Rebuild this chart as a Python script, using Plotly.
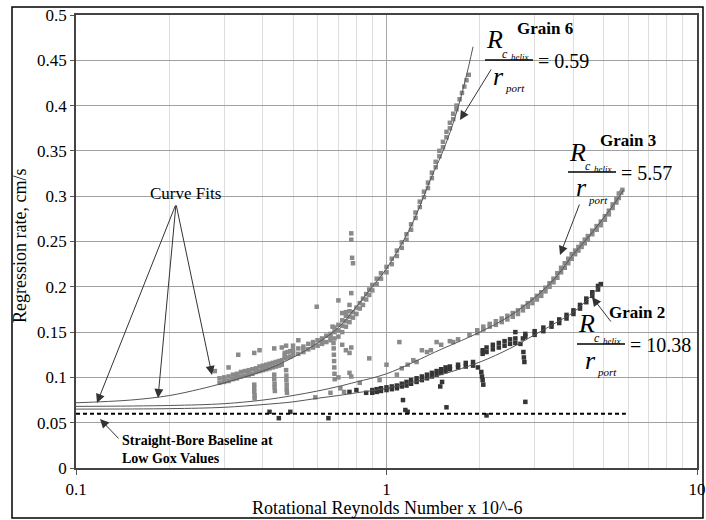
import plotly.graph_objects as go

FONT = "Liberation Serif"

# ---- data (x = rotational Re x 1e-6, y = regression rate cm/s) ----
grain6_pts = [
    (0.290, 0.094), (0.290, 0.099), (0.300, 0.095), (0.300, 0.100), (0.300, 0.097),
    (0.310, 0.096), (0.310, 0.101), (0.320, 0.098), (0.320, 0.103), (0.330, 0.099),
    (0.330, 0.104), (0.330, 0.101), (0.340, 0.101), (0.340, 0.106), (0.350, 0.102),
    (0.350, 0.107), (0.360, 0.103), (0.360, 0.108), (0.360, 0.105), (0.370, 0.104),
    (0.370, 0.109), (0.380, 0.106), (0.380, 0.110), (0.390, 0.107), (0.390, 0.112),
    (0.400, 0.108), (0.400, 0.113), (0.400, 0.110), (0.410, 0.109), (0.410, 0.114),
    (0.420, 0.110), (0.420, 0.115), (0.430, 0.111), (0.430, 0.116), (0.440, 0.112),
    (0.440, 0.117), (0.450, 0.113), (0.450, 0.118), (0.460, 0.114), (0.460, 0.119),
    (0.470, 0.121), (0.470, 0.127), (0.470, 0.124), (0.480, 0.122), (0.480, 0.128),
    (0.490, 0.123), (0.490, 0.129), (0.500, 0.125), (0.500, 0.130), (0.500, 0.127),
    (0.520, 0.126), (0.520, 0.132), (0.540, 0.128), (0.540, 0.134), (0.540, 0.131),
    (0.560, 0.131), (0.560, 0.137), (0.580, 0.133), (0.580, 0.139), (0.580, 0.136),
    (0.600, 0.135), (0.600, 0.141), (0.620, 0.137), (0.620, 0.143), (0.620, 0.140),
    (0.640, 0.139), (0.640, 0.146), (0.660, 0.141), (0.660, 0.148), (0.660, 0.144),
    (0.680, 0.143), (0.680, 0.150), (0.680, 0.155), (0.700, 0.145), (0.700, 0.152),
    (0.700, 0.158), (0.720, 0.150), (0.720, 0.157), (0.720, 0.163), (0.740, 0.156),
    (0.740, 0.162), (0.740, 0.168), (0.760, 0.161), (0.760, 0.167), (0.760, 0.173),
    (0.780, 0.166), (0.780, 0.172), (0.800, 0.170), (0.800, 0.177), (0.820, 0.176),
    (0.820, 0.182), (0.840, 0.180), (0.840, 0.187), (0.860, 0.186), (0.860, 0.192),
    (0.880, 0.191), (0.880, 0.197), (0.900, 0.196), (0.900, 0.202), (0.930, 0.203),
    (0.930, 0.209), (0.960, 0.209), (0.960, 0.215), (1.000, 0.216), (1.000, 0.222),
    (1.040, 0.225), (1.040, 0.231), (1.080, 0.234), (1.080, 0.240), (1.120, 0.243),
    (1.120, 0.249), (1.160, 0.252), (1.160, 0.258), (1.200, 0.263), (1.200, 0.269),
    (1.240, 0.276), (1.240, 0.282), (1.280, 0.288), (1.280, 0.294), (1.320, 0.299),
    (1.320, 0.305), (1.360, 0.309), (1.360, 0.315), (1.400, 0.320), (1.400, 0.326),
    (1.440, 0.332), (1.440, 0.338), (1.480, 0.344), (1.480, 0.350), (1.520, 0.354),
    (1.520, 0.360), (1.560, 0.365), (1.560, 0.371), (1.600, 0.375), (1.600, 0.381),
    (1.640, 0.385), (1.640, 0.391), (1.680, 0.396), (1.680, 0.400), (1.720, 0.407),
    (1.750, 0.414), (1.780, 0.421), (1.810, 0.428), (1.840, 0.434),
    # transients
    (0.375, 0.092), (0.375, 0.088), (0.375, 0.084), (0.376, 0.080), (0.376, 0.077),
    (0.435, 0.103), (0.435, 0.098), (0.436, 0.093), (0.436, 0.089), (0.437, 0.085),
    (0.475, 0.108), (0.476, 0.102), (0.476, 0.097), (0.477, 0.092), (0.477, 0.087),
    (0.478, 0.083), (0.675, 0.138), (0.676, 0.132), (0.677, 0.125), (0.678, 0.118),
    (0.679, 0.111), (0.680, 0.104), (0.681, 0.098),
    # scattered
    (0.280, 0.107), (0.310, 0.111), (0.333, 0.125), (0.375, 0.127), (0.390, 0.130),
    (0.435, 0.132), (0.460, 0.133), (0.475, 0.135), (0.500, 0.135), (0.520, 0.141),
    (0.596, 0.178), (0.670, 0.156), (0.700, 0.185), (0.720, 0.171), (0.740, 0.172),
    (0.760, 0.180), (0.770, 0.193), (0.720, 0.136), (0.740, 0.130), (0.760, 0.127),
    (0.770, 0.133), (0.770, 0.259), (0.770, 0.252), (0.775, 0.232), (0.780, 0.226),
]

grain3_pts = [
    (0.59, 0.078), (0.66, 0.083), (0.70, 0.100), (0.71, 0.088), (0.73, 0.084),
    (0.76, 0.105), (0.77, 0.101), (0.82, 0.094), (0.88, 0.121), (0.95, 0.097),
    (1.00, 0.114), (1.08, 0.103), (1.12, 0.110), (1.17, 0.114), (1.22, 0.119),
    (1.10, 0.139), (1.25, 0.117), (1.30, 0.130), (1.35, 0.128), (1.39, 0.130),
    (1.45, 0.139), (1.50, 0.136), (1.60, 0.140), (1.64, 0.139), (1.70, 0.142),
    (1.85, 0.147),
    (1.96, 0.149), (1.96, 0.152), (2.05, 0.153), (2.05, 0.156), (2.15, 0.156),
    (2.15, 0.159), (2.25, 0.158), (2.25, 0.162), (2.35, 0.161), (2.35, 0.165),
    (2.45, 0.164), (2.45, 0.168), (2.55, 0.167), (2.55, 0.171), (2.65, 0.170),
    (2.65, 0.174), (2.75, 0.174), (2.75, 0.178), (2.85, 0.178), (2.85, 0.182),
    (2.95, 0.182), (2.95, 0.186), (3.05, 0.186), (3.05, 0.190), (3.15, 0.190),
    (3.15, 0.194), (3.25, 0.195), (3.25, 0.199), (3.35, 0.200), (3.35, 0.204),
    (3.45, 0.205), (3.45, 0.209), (3.55, 0.210), (3.55, 0.215), (3.65, 0.216),
    (3.65, 0.221), (3.75, 0.221), (3.75, 0.226), (3.85, 0.226), (3.85, 0.231),
    (3.95, 0.231), (3.95, 0.236), (4.05, 0.236), (4.05, 0.240), (4.15, 0.240),
    (4.15, 0.244), (4.25, 0.244), (4.25, 0.248), (4.35, 0.248), (4.35, 0.252),
    (4.45, 0.252), (4.45, 0.256), (4.60, 0.258), (4.60, 0.262), (4.75, 0.263),
    (4.75, 0.267), (4.90, 0.268), (4.90, 0.272), (5.05, 0.274), (5.05, 0.278),
    (5.20, 0.280), (5.20, 0.284), (5.35, 0.287), (5.35, 0.291), (5.50, 0.293),
    (5.50, 0.297), (5.60, 0.298), (5.60, 0.303), (5.70, 0.304), (5.75, 0.307),
]

grain2_pts = [
    (0.86, 0.083), (0.90, 0.083), (0.90, 0.086), (0.93, 0.084), (0.93, 0.087),
    (0.96, 0.085), (0.96, 0.088), (1.00, 0.086), (1.00, 0.089), (1.04, 0.087),
    (1.04, 0.090), (1.08, 0.088), (1.08, 0.091), (1.12, 0.090), (1.12, 0.093),
    (1.16, 0.091), (1.16, 0.095), (1.20, 0.093), (1.20, 0.097), (1.25, 0.095),
    (1.25, 0.099), (1.30, 0.097), (1.30, 0.101), (1.35, 0.099), (1.35, 0.103),
    (1.40, 0.101), (1.40, 0.105), (1.45, 0.103), (1.45, 0.107), (1.50, 0.105),
    (1.50, 0.109), (1.55, 0.107), (1.55, 0.111), (1.60, 0.109), (1.60, 0.112),
    (1.70, 0.111), (1.70, 0.114), (1.80, 0.112), (1.80, 0.116), (1.90, 0.113),
    (1.90, 0.117), (1.97, 0.111),
    (2.02, 0.106), (2.03, 0.101), (2.04, 0.097), (2.05, 0.092),
    (2.04, 0.126), (2.04, 0.130), (2.10, 0.128), (2.10, 0.133), (2.20, 0.131),
    (2.20, 0.136), (2.30, 0.133), (2.30, 0.138), (2.40, 0.135), (2.40, 0.140),
    (2.50, 0.137), (2.50, 0.142), (2.60, 0.138), (2.60, 0.143), (2.70, 0.137),
    (2.76, 0.128), (2.77, 0.122), (2.78, 0.117), (2.80, 0.073),
    (2.80, 0.145), (2.80, 0.148), (3.00, 0.147), (3.00, 0.151), (3.20, 0.151),
    (3.20, 0.155), (3.40, 0.156), (3.40, 0.160), (3.60, 0.160), (3.60, 0.164),
    (3.80, 0.165), (3.80, 0.169), (4.00, 0.170), (4.00, 0.174), (4.20, 0.176),
    (4.20, 0.180), (4.40, 0.183), (4.40, 0.187), (4.60, 0.190), (4.60, 0.194),
    (4.80, 0.197), (4.80, 0.201), (4.90, 0.203),
    # scattered
    (0.42, 0.062), (0.45, 0.055), (0.49, 0.062), (0.65, 0.055), (0.76, 0.084),
    (0.80, 0.086), (1.13, 0.075), (1.15, 0.064), (1.17, 0.062), (1.49, 0.090),
    (1.51, 0.095), (1.56, 0.067), (2.10, 0.058), (2.60, 0.150), (2.75, 0.143),
]

# curve fits
fit6_x = [0.1, 0.15, 0.2, 0.25, 0.3, 0.4, 0.5, 0.6, 0.7, 0.8, 0.9, 1.0, 1.2, 1.4, 1.5, 1.6, 1.7, 1.8, 1.9]
fit6_y = [0.072, 0.075, 0.080, 0.087, 0.094, 0.107, 0.122, 0.138, 0.155, 0.178, 0.200, 0.220, 0.267, 0.322, 0.345, 0.370, 0.398, 0.430, 0.465]
fit3_x = [0.1, 0.2, 0.3, 0.4, 0.5, 0.6, 0.7, 0.8, 1.0, 1.5, 2.0, 2.5, 3.0, 3.5, 4.0, 4.5, 5.0, 5.5, 5.8]
fit3_y = [0.068, 0.069, 0.071, 0.075, 0.080, 0.085, 0.090, 0.095, 0.104, 0.131, 0.150, 0.168, 0.188, 0.210, 0.236, 0.256, 0.276, 0.295, 0.307]
fit2_x = [0.1, 0.2, 0.3, 0.4, 0.5, 0.6, 0.7, 0.8, 1.0, 1.5, 2.0, 2.5, 3.0, 3.5, 4.0, 4.5, 4.9]
fit2_y = [0.065, 0.0655, 0.067, 0.070, 0.073, 0.077, 0.080, 0.083, 0.088, 0.103, 0.117, 0.132, 0.147, 0.160, 0.172, 0.188, 0.202]

baseline_x = [0.1, 5.9]
baseline_y = [0.06, 0.06]

y_ticks = [0, 0.05, 0.1, 0.15, 0.2, 0.25, 0.3, 0.35, 0.4, 0.45, 0.5]
y_ticktext = ["0", "0.05", "0.1", "0.15", "0.2", "0.25", "0.3", "0.35", "0.4", "0.45", "0.5"]
x_ticks = [0.1, 1, 10]
x_ticktext = ["0.1", "1", "10"]
x_minor = [0.2, 0.3, 0.4, 0.5, 0.6, 0.7, 0.8, 0.9, 2, 3, 4, 5, 6, 7, 8, 9]

W, H = 706, 520
ML, MR, MT, MB = 76, 9, 15, 52
PW, PH = W - ML - MR, H - MT - MB


def pp(px, py):
    # pixel position in the page -> paper coordinates
    return (px - ML) / PW, (H - MB - py) / PH


fig = go.Figure()

for pts, col in [(grain6_pts, "#8a8a8a"), (grain3_pts, "#8a8a8a"), (grain2_pts, "#353535")]:
    fig.add_trace(go.Scatter(x=[p[0] for p in pts], y=[p[1] for p in pts], mode="markers",
                             marker=dict(symbol="square", size=4.5, color=col, line_width=0),
                             showlegend=False, hoverinfo="skip"))

for fx, fy in [(fit6_x, fit6_y), (fit3_x, fit3_y), (fit2_x, fit2_y)]:
    fig.add_trace(go.Scatter(x=fx, y=fy, mode="lines", line=dict(color="#555555", width=1, shape="spline"),
                             showlegend=False, hoverinfo="skip"))

fig.add_trace(go.Scatter(x=baseline_x, y=baseline_y, mode="lines",
                         line=dict(color="black", width=2, dash="4px,3px"), showlegend=False))


def text(t, px, py, size, xanchor="center", angle=0):
    x, y = pp(px, py)
    fig.add_annotation(x=x, y=y, xref="paper", yref="paper", text=t, showarrow=False,
                       xanchor=xanchor, yanchor="middle", align="left", textangle=angle,
                       font=dict(family=FONT, size=size, color="black"))


def arrow(tip, tail, size=1.8, color="#333333"):
    x, y = pp(*tip)
    fig.add_annotation(x=x, y=y, xref="paper", yref="paper", text="", showarrow=True,
                       ax=tail[0] - tip[0], ay=tail[1] - tip[1], arrowhead=2, arrowsize=size,
                       arrowwidth=1, arrowcolor=color, standoff=0)


def patch(x0, y0, x1, y1):
    a, b = pp(x0, y0)
    c, d = pp(x1, y1)
    fig.add_shape(type="rect", xref="paper", yref="paper", x0=a, y0=d, x1=c, y1=b,
                  fillcolor="white", line_width=0, layer="between")


def ratio(px, py, value, grain):
    # R_c_helix / r_port = value, with the grain name above; (px, py) = left end of fraction bar
    text("<b>" + grain + "</b>", px + 60, py - 32, 17)
    text("<i>R</i>", px + 9, py - 20, 26)
    text("<i>c</i>", px + 20, py - 6, 12)
    text("<i>helix</i>", px + 24, py - 3, 9, xanchor="left")
    a, b = pp(px, py)
    c, _ = pp(px + 48, py)
    fig.add_shape(type="line", xref="paper", yref="paper", x0=a, y0=b, x1=c, y1=b,
                  line=dict(color="black", width=1.6))
    text("= " + value, px + 51, py + 1, 20, xanchor="left")
    text("<i>r</i>", px + 13, py + 16, 26)
    text("<i>port</i>", px + 30, py + 28, 11)


patch(484, 17, 598, 95)
patch(552, 128, 684, 205)
patch(576, 300, 692, 375)

ratio(485, 60, "0.59", "Grain 6")
ratio(568, 172, "5.57", "Grain 3")
ratio(577, 344, "10.38", "Grain 2")

arrow((460, 120), (492, 68))
arrow((560, 255), (580, 203))
arrow((592, 297), (612, 323))

text("Curve Fits", 185, 193, 17)
arrow((97, 403), (176, 204))
arrow((158, 398), (176, 204))
arrow((212, 375), (176, 204))

text("<b>Straight-Bore Baseline at<br>Low Gox Values</b>", 120, 449, 14, xanchor="left")
arrow((100, 419), (120, 440))

# axis titles
text("Regression rate, cm/s", 20, 246, 18, angle=-90)
text("Rotational Reynolds Number x 10^-6", 387, 508, 18)

# outer frame
fa, fb = pp(12, 7)
fc, fd = pp(703, 518)
fig.add_shape(type="rect", xref="paper", yref="paper", x0=fa, y0=fd, x1=fc, y1=fb,
              line=dict(color="black", width=1.5), fillcolor="rgba(0,0,0,0)")

fig.update_layout(
    width=W, height=H, margin=dict(l=ML, r=MR, t=MT, b=MB),
    paper_bgcolor="white", plot_bgcolor="white",
    font=dict(family=FONT, size=17, color="black"),
    xaxis=dict(type="log", range=[-1, 1], tickvals=x_ticks, ticktext=x_ticktext, automargin=False,
               ticks="outside", ticklen=5, tickcolor="#555", showgrid=True, gridcolor="#a8a8a8",
               minor=dict(tickvals=x_minor, showgrid=True, gridcolor="#dedede", ticks=""),
               showline=True, linecolor="#444", linewidth=1.5, mirror=True, zeroline=False),
    yaxis=dict(range=[0, 0.5], tickvals=y_ticks, ticktext=y_ticktext, ticks="outside", ticklen=4,
               automargin=False, tickcolor="#555", showgrid=True, gridcolor="#a0a0a0", showline=True,
               linecolor="#444", linewidth=1.5, mirror=True, zeroline=False),
)

# the page's default 8px body margin would push the figure off its 706x520 window
fig.write_html("out.html", config={"displayModeBar": False},
               post_script="document.body.style.margin='0';")
